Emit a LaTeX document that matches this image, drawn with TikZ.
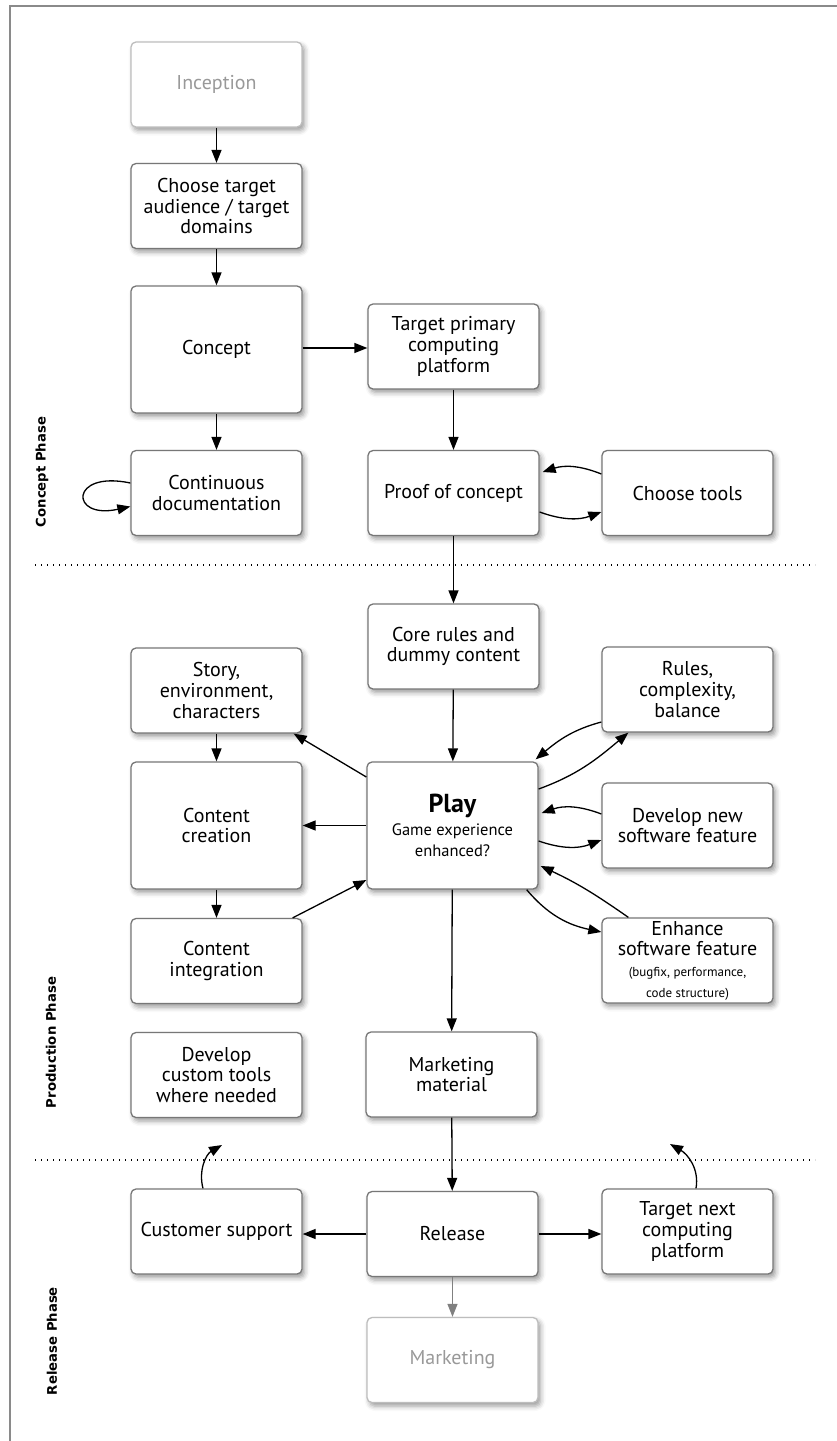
\documentclass[tikz,border=0pt]{standalone}
\usepackage{fontspec}
\setmainfont{PT Sans}
\newfontfamily\phasefont{DejaVu Sans}
\usetikzlibrary{arrows.meta,shadows.blur}

\definecolor{boxline}{HTML}{777777}
\definecolor{faintline}{HTML}{BDBDBD}
\definecolor{fainttext}{HTML}{999999}
\definecolor{framegray}{HTML}{8A8A8A}
\definecolor{arrgray}{HTML}{808080}

\newcommand{\phaselabel}[2]{\resizebox{#1}{!}{\phasefont\bfseries #2}}

\tikzset{
  box/.style={draw=boxline, line width=1.3pt, rounded corners=5pt, fill=white,
    minimum width=171pt, minimum height=85pt, align=center, inner sep=0pt,
    font=\fontsize{20}{20.7}\selectfont,
    blur shadow={shadow xshift=2.5pt, shadow yshift=-3.5pt, shadow blur radius=5pt, shadow opacity=40}},
  bigbox/.style={box, minimum height=127pt},
  ghost/.style={box, draw=faintline, text=fainttext},
  arr/.style={-{Triangle[length=13pt,width=10pt]}, line width=1.3pt},
  phase/.style={rotate=90, inner sep=0pt},
  sep/.style={line width=1.3pt, dash pattern=on 1.3pt off 4.7pt}
}

\begin{document}
\begin{tikzpicture}[x=1pt,y=1pt]
\useasboundingbox (0,0) rectangle (837,-1441);

% outer frame (top and left edges)
\draw[framegray, line width=1.5pt] (837,-6) -- (10,-6) -- (10,-1441);

% phase separators
\draw[sep] (35,-565) -- (815,-565);
\draw[sep] (35,-1160) -- (815,-1160);

% phase labels
\node[phase] (lconcept) at (42,-472) {\phaselabel{110pt}{Concept Phase}};
\node[phase] (lprod) at (51,-1042.5) {\phaselabel{131pt}{Production Phase}};
\node[phase] (lrel) at (52,-1341) {\phaselabel{108pt}{Release Phase}};

% concept phase
\node[ghost] (inception) at (216.5,-84.5) {Inception};
\node[box] (choose) at (216.5,-206) {Choose target\\audience / target\\domains};
\node[bigbox] (concept) at (216.5,-349.5) {Concept};
\node[box] (cdoc) at (216.5,-493) {Continuous\\documentation};
\node[box] (platform) at (453.5,-346.5) {Target primary\\computing\\platform};
\node[box] (proof) at (453.5,-493) {Proof of concept};
\node[box] (tools) at (687.5,-493) {Choose tools};

% production phase
\node[box] (core) at (453.5,-646.5) {Core rules and\\dummy content};
\node[box] (story) at (216.5,-690.5) {Story,\\environment,\\characters};
\node[box] (rules) at (687.5,-689.5) {Rules,\\complexity,\\balance};
\node[bigbox] (creation) at (216.5,-825.5) {Content\\creation};
\node[bigbox] (play) at (452.5,-825.5) {{\fontsize{26}{27}\selectfont\bfseries Play}\\[2pt]{\fontsize{16.5}{20}\selectfont Game experience}\\{\fontsize{16.5}{20}\selectfont enhanced?}};
\node[box] (devnew) at (687.5,-825.5) {Develop new\\software feature};
\node[box] (integ) at (216.5,-961) {Content\\integration};
\node[box] (enhance) at (687.5,-960.5) {Enhance\\software feature\\{\fontsize{13}{15.5}\selectfont (bugfix, performance,}\\{\fontsize{13}{15.5}\selectfont code structure)}};
\node[box] (customtools) at (216.5,-1075) {Develop\\custom tools\\where needed};
\node[box] (mktmat) at (451.5,-1074.5) {Marketing\\material};

% release phase
\node[box] (custsupp) at (216.5,-1231.5) {Customer support};
\node[box] (release) at (452.5,-1234) {Release};
\node[box] (nextplat) at (687.5,-1231.5) {Target next\\computing\\platform};
\node[ghost] (marketing) at (452.5,-1360) {Marketing};

\coordinate (csup) at (222,-1145);
\coordinate (nup) at (670,-1144);

% connectors
\draw[arr] (inception) -- (choose);
\draw[arr] (choose) -- (concept);
\draw[arr] (concept) -- (cdoc);
\draw[arr] ([yshift=1.5pt]concept.east) -- ([yshift=1.5pt]concept.east -| platform.west);
\draw[arr] ([yshift=10pt]cdoc.west) .. controls +(-61,13) and +(-61,-13.5) .. ([yshift=-13.5pt]cdoc.west);
\draw[arr] (platform) -- (proof);
\draw[arr] ([yshift=19pt]tools.west) to[bend right=20] ([xshift=3pt,yshift=21pt]proof.east);
\draw[arr] ([yshift=-19pt]proof.east) to[bend right=20] ([yshift=-19pt]tools.west);
\draw[arr] (proof) -- (core);
\draw[arr] (core) -- (play);
\draw[arr] ([yshift=48.5pt]play.west) -- ([xshift=-9pt]story.south east);
\draw[arr] (play.west) -- (creation.east);
\draw[arr] ([xshift=-10pt]integ.north east) -- ([yshift=-54.5pt]play.west);
\draw[arr] (story) -- (creation);
\draw[arr] (creation) -- (integ);
\draw[arr] ([yshift=-32.5pt]rules.west) to[out=195,in=40] ([xshift=-3pt,yshift=2pt]play.north east);
\draw[arr] ([yshift=36.5pt]play.east) to[out=20,in=220] ([xshift=27pt]rules.south west);
\draw[arr] ([yshift=11.5pt]devnew.west) to[bend right=20] ([xshift=3pt,yshift=12.5pt]play.east);
\draw[arr] ([yshift=-15.5pt]play.east) to[bend right=20] ([yshift=-14.5pt]devnew.west);
\draw[arr] ([xshift=27pt]enhance.north west) to[out=145,in=-25] ([xshift=2pt,yshift=-40.5pt]play.east);
\draw[arr] ([xshift=-12pt]play.south east) to[out=-50,in=168] ([yshift=28.5pt]enhance.west);
\draw[arr] (play) -- (mktmat);
\draw[arr] (mktmat) -- (release);
\draw[arr] (release.west) -- (release.west -| custsupp.east);
\draw[arr] (release.east) -- (release.east -| nextplat.west);
\draw[arr, color=arrgray] (release) -- (marketing);
\draw[arr] ([xshift=-13.5pt]custsupp.north) to[out=105,in=210] (csup);
\draw[arr] ([xshift=8.5pt]nextplat.north) to[out=80,in=330] (nup);
\end{tikzpicture}
\end{document}
